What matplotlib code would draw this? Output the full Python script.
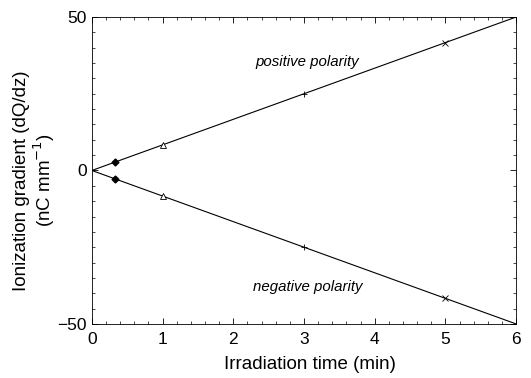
import matplotlib
matplotlib.use("Agg")
import matplotlib.pyplot as plt
from matplotlib.ticker import MultipleLocator

plt.rcParams['font.family'] = ['Liberation Sans', 'DejaVu Sans']

# Data
fit_x = [0, 6]
pos_fit = [0, 50]
neg_fit = [0, -50]

diamond_x = [0.33]
diamond_pos = [2.7]
diamond_neg = [-2.7]
tri_x = [1]
tri_pos = [8.2]
tri_neg = [-8.2]
plus_x = [3]
plus_pos = [25]
plus_neg = [-25]
cross_x = [5]
cross_pos = [41.5]
cross_neg = [-41.5]

fig = plt.figure(figsize=(5.31, 3.78), dpi=100)
ax = fig.add_axes([0.173, 0.143, 0.799, 0.812])

ax.plot(fit_x, pos_fit, color='black', lw=0.8)
ax.plot(fit_x, neg_fit, color='black', lw=0.8)
for ys in (diamond_pos, diamond_neg):
    ax.plot(diamond_x, ys, linestyle='none', marker='D', ms=3.5, color='black')
for ys in (tri_pos, tri_neg):
    ax.plot(tri_x, ys, linestyle='none', marker='^', ms=5, mfc='white', mec='black', mew=0.6)
for ys in (plus_pos, plus_neg):
    ax.plot(plus_x, ys, linestyle='none', marker='+', ms=5, color='black', mew=0.6)
for ys in (cross_pos, cross_neg):
    ax.plot(cross_x, ys, linestyle='none', marker='x', ms=5, color='black', mew=0.6)

ax.set_xlim(0, 6)
ax.set_ylim(-50, 50)
ax.xaxis.set_major_locator(MultipleLocator(1))
ax.xaxis.set_minor_locator(MultipleLocator(0.2))
ax.yaxis.set_major_locator(MultipleLocator(50))
ax.yaxis.set_minor_locator(MultipleLocator(5))
ax.tick_params(which='both', direction='in', top=True, right=True, labelsize=12.5)
ax.tick_params(axis='x', which='major', pad=6)
ax.tick_params(which='major', length=4, width=0.6)
ax.tick_params(which='minor', length=2, width=0.5)
for s in ax.spines.values():
    s.set_linewidth(0.6)

ax.set_xlabel('Irradiation time (min)', fontsize=13.5)
ax.set_ylabel('Ionization gradient (dQ/dz)\n(nC mm$^{-1}$)', fontsize=13.5,
              linespacing=1.1)
ax.xaxis.set_label_coords(0.515, -0.104)
ax.yaxis.set_label_coords(-0.082, 0.468)

ax.text(3.05, 35.5, 'positive polarity', style='italic', fontsize=10.8, ha='center', va='center')
ax.text(3.05, -38, 'negative polarity', style='italic', fontsize=10.8, ha='center', va='center')

fig.savefig('out.png', dpi=100)
